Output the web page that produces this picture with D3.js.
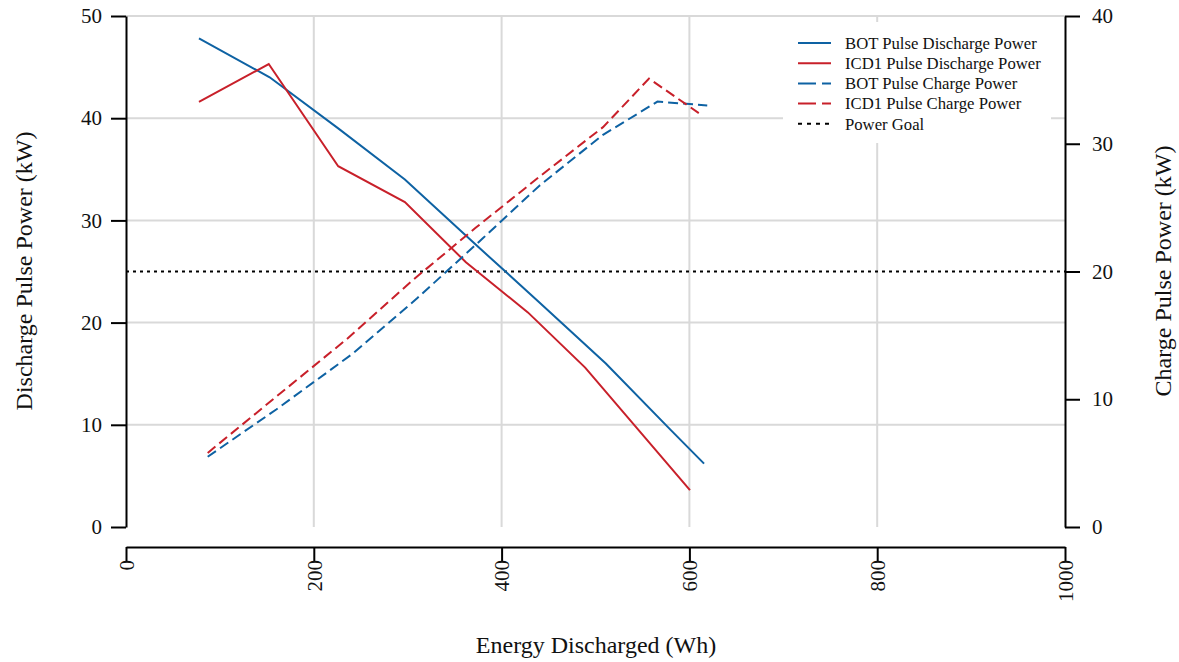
<!DOCTYPE html>
<html>
<head>
<meta charset="utf-8">
<script src="https://cdn.jsdelivr.net/npm/d3@7"></script>
<style>
  body { margin: 0; background: #fff; }
  svg text { font-family: "Liberation Serif", "Times New Roman", serif; fill: #111; }
</style>
</head>
<body>
<div id="container"></div>
<script>
const width = 1179;
const height = 662;

// data (Wh, kW)
const botDischargeWh = [77.7, 153, 226, 297, 368, 440, 511, 580, 615.6];
const botDischargeKw = [47.8, 44.0, 39.0, 34.0, 28.0, 22.0, 16.0, 9.5, 6.2];
const icdDischargeWh = [77.7, 152, 226, 297, 362, 428, 489, 600.6];
const icdDischargeKw = [41.6, 45.3, 35.3, 31.8, 25.9, 21.0, 15.6, 3.6];
const botChargeWh = [87, 160, 242, 310, 380, 440, 508, 566, 619];
const botChargeKw = [5.5, 9.2, 13.6, 17.9, 22.6, 26.7, 30.7, 33.3, 33.0];
const icdChargeWh = [87, 160, 235, 305, 372, 440, 508, 557, 610];
const icdChargeKw = [5.8, 10.2, 14.7, 19.3, 23.4, 27.4, 31.3, 35.1, 32.4];
const powerGoal = 25; // kW on discharge axis

const xTicks = [0, 200, 400, 600, 800, 1000];
const leftTicks = [0, 10, 20, 30, 40, 50];
const rightTicks = [0, 10, 20, 30, 40];

const blue = "#0e62a3";
const red = "#c8202a";
const serif = "Liberation Serif";

const svg = d3.select("#container").append("svg")
  .attr("width", width)
  .attr("height", height);

const xScale = d3.scaleLinear([0, 1000], [126, 1065]);
const yLeft = d3.scaleLinear([0, 50], [527, 16]);
const yRight = d3.scaleLinear([0, 40], [527, 16]);

// grid
svg.append("g").selectAll("line").data(leftTicks.slice(1)).join("line")
  .attr("x1", 126).attr("x2", 1065)
  .attr("y1", d => yLeft(d)).attr("y2", d => yLeft(d))
  .attr("stroke", "#d9d9d9").attr("stroke-width", 2);
svg.append("g").selectAll("line").data(xTicks.slice(1, -1)).join("line")
  .attr("x1", d => xScale(d)).attr("x2", d => xScale(d))
  .attr("y1", 16).attr("y2", 527)
  .attr("stroke", "#d9d9d9").attr("stroke-width", 2);

// axes
const xAx = svg.append("g")
  .attr("transform", "translate(0,547)")
  .call(d3.axisBottom(xScale).tickValues(xTicks).tickFormat(d3.format("d")).tickSize(15).tickSizeOuter(0));
xAx.selectAll("text")
  .attr("transform", "translate(0,13) rotate(-90)")
  .attr("text-anchor", "end")
  .attr("x", 0).attr("y", 0).attr("dy", "0.35em");

const lAx = svg.append("g")
  .attr("transform", "translate(126,0)")
  .call(d3.axisLeft(yLeft).tickValues(leftTicks).tickSize(15).tickSizeOuter(0).tickPadding(9));
const rAx = svg.append("g")
  .attr("transform", "translate(1065,0)")
  .call(d3.axisRight(yRight).tickValues(rightTicks).tickSize(15).tickSizeOuter(0).tickPadding(12));

[xAx, lAx, rAx].forEach(a => {
  a.attr("font-family", serif).attr("font-size", 21);
  a.select(".domain").attr("stroke", "#000").attr("stroke-width", 2);
  a.selectAll(".tick line").attr("stroke", "#000").attr("stroke-width", 2);
  a.selectAll("text").attr("fill", "#111");
});

// axis titles
svg.append("text").attr("x", 596).attr("y", 653).attr("text-anchor", "middle")
  .style("font-size", "24px").text("Energy Discharged (Wh)");
svg.append("text").attr("transform", "translate(32,271) rotate(-90)").attr("text-anchor", "middle")
  .style("font-size", "24px").text("Discharge Pulse Power (kW)");
svg.append("text").attr("transform", "translate(1171,271) rotate(-90)").attr("text-anchor", "middle")
  .style("font-size", "24px").text("Charge Pulse Power (kW)");

// power goal
svg.append("line")
  .attr("x1", 126).attr("x2", 1065)
  .attr("y1", yLeft(powerGoal)).attr("y2", yLeft(powerGoal))
  .attr("stroke", "#000").attr("stroke-width", 2).attr("stroke-dasharray", "3,4");

const series = [
  { wh: botDischargeWh, kw: botDischargeKw, y: yLeft, color: blue, dash: null },
  { wh: icdDischargeWh, kw: icdDischargeKw, y: yLeft, color: red, dash: null },
  { wh: botChargeWh, kw: botChargeKw, y: yRight, color: blue, dash: "10,5" },
  { wh: icdChargeWh, kw: icdChargeKw, y: yRight, color: red, dash: "10,5" }
];

series.forEach(s => {
  const pts = s.wh.map((w, i) => [w, s.kw[i]]);
  svg.append("path")
    .datum(pts)
    .attr("fill", "none")
    .attr("stroke", s.color)
    .attr("stroke-width", 2)
    .attr("stroke-dasharray", s.dash)
    .attr("d", d3.line().x(d => xScale(d[0])).y(d => s.y(d[1])));
});

// legend
const legendItems = [
  { label: "BOT Pulse Discharge Power", color: blue, dash: null },
  { label: "ICD1 Pulse Discharge Power", color: red, dash: null },
  { label: "BOT Pulse Charge Power", color: blue, dash: "18,6" },
  { label: "ICD1 Pulse Charge Power", color: red, dash: "18,6" },
  { label: "Power Goal", color: "#000", dash: "4,5" }
];
const legend = svg.append("g");
legend.append("rect").attr("x", 783).attr("y", 22).attr("width", 268).attr("height", 121).attr("fill", "#fff");
legend.selectAll("g").data(legendItems).join("g")
  .attr("transform", (d, i) => `translate(798,${43 + i * 20.2})`)
  .each(function (d) {
    const g = d3.select(this);
    g.append("line").attr("x1", 0).attr("x2", 33).attr("stroke", d.color)
      .attr("stroke-width", 2).attr("stroke-dasharray", d.dash);
    g.append("text").attr("x", 47).attr("dy", "0.35em").style("font-size", "16.7px").text(d.label);
  });
</script>
</body>
</html>
